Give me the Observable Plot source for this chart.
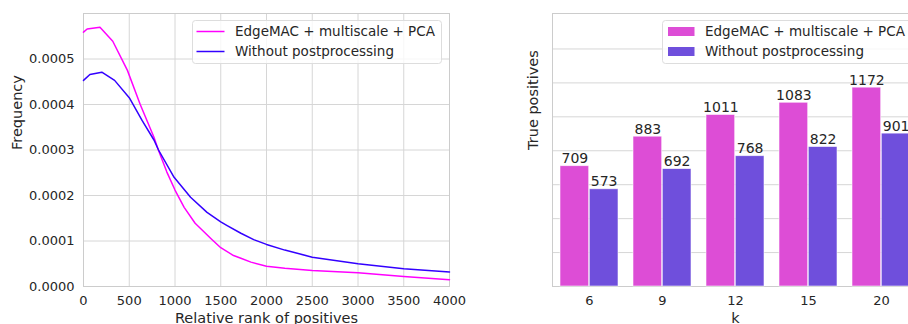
<!DOCTYPE html>
<html>
<head>
<meta charset="utf-8">
<script src="https://cdn.jsdelivr.net/npm/d3@7"></script>
<script src="https://cdn.jsdelivr.net/npm/@observablehq/plot@0.6"></script>
<style>
  body { margin: 0; background: white; }
  #wrap { position: relative; width: 908px; height: 324px; overflow: hidden; background: white; }
  #left, #right { position: absolute; top: 0; width: 470px; height: 324px; }
  #left { left: 0; }
  #right { left: 460px; }
  svg { overflow: visible; max-width: none !important; }
</style>
</head>
<body>
<div id="wrap"><div id="left"></div><div id="right"></div></div>
<script>
// ---------- data ----------
const seriesNames = ["EdgeMAC + multiscale + PCA", "Without postprocessing"];

const rankA = [0, 40, 180, 320, 480, 620, 770, 820, 910, 1000, 1100, 1220, 1400, 1500, 1640, 1720, 1830, 2000, 2200, 2500, 3000, 3500, 4000];
const freqA = [0.000559, 0.000566, 0.000570, 0.000539, 0.000475, 0.000400, 0.000328, 0.000299, 0.000252, 0.000212, 0.000174, 0.000139, 0.000104, 0.0000852, 0.0000680, 0.0000622, 0.0000536, 0.0000446, 0.0000400, 0.0000352, 0.0000301, 0.0000220, 0.0000147];

const rankB = [0, 70, 200, 340, 500, 640, 770, 820, 990, 1170, 1350, 1500, 1570, 1720, 1860, 2000, 2200, 2500, 3000, 3500, 4000];
const freqB = [0.000453, 0.000466, 0.000471, 0.000453, 0.000415, 0.000365, 0.000322, 0.000300, 0.000240, 0.000196, 0.000163, 0.000142, 0.000134, 0.000117, 0.000103, 0.0000925, 0.0000800, 0.0000645, 0.0000499, 0.0000389, 0.0000320];

const kValues = ["6", "9", "12", "15", "20"];
const tpA = [709, 883, 1011, 1083, 1172];
const tpB = [573, 692, 768, 822, 901];

const xTicksLeft = [0, 500, 1000, 1500, 2000, 2500, 3000, 3500, 4000];
const yTicksLeft = [0, 0.0001, 0.0002, 0.0003, 0.0004, 0.0005];
const yTicksRight = [200, 400, 600, 800, 1000, 1200, 1400];

const lineColors = ["#ff00ff", "#3300ff"];
const barColors = ["#dd4dd6", "#6f4fdc"];
const textColor = "#262626";
const gridColor = "#d6d6d6";
const frameColor = "#cccccc";
const FONT = "DejaVu Sans, sans-serif";

// ---------- tables ----------
const lineData = [
  ...rankA.map((r, i) => ({rank: r, freq: freqA[i], s: seriesNames[0]})),
  ...rankB.map((r, i) => ({rank: r, freq: freqB[i], s: seriesNames[1]}))
];
const barA = kValues.map((k, i) => ({k, v: tpA[i]}));
const barB = kValues.map((k, i) => ({k, v: tpB[i]}));

// ---------- left chart ----------
const left = Plot.plot({
  width: 470, height: 324,
  marginLeft: 83, marginRight: 21, marginTop: 13, marginBottom: 38,
  style: {fontFamily: FONT, fontSize: "13px", color: textColor, background: "transparent", overflow: "visible"},
  x: {domain: [0, 4000], label: null, axis: null},
  y: {domain: [0, 0.0006], label: null, axis: null},
  color: {domain: seriesNames, range: lineColors},
  marks: [
    Plot.gridX(xTicksLeft, {stroke: gridColor, strokeOpacity: 1}),
    Plot.gridY(yTicksLeft, {stroke: gridColor, strokeOpacity: 1}),
    Plot.frame({stroke: frameColor}),
    Plot.axisX(xTicksLeft, {tickSize: 0, tickPadding: 9, tickFormat: d => String(d), label: null, fill: textColor}),
    Plot.axisY(yTicksLeft, {tickSize: 0, tickPadding: 9, tickFormat: d3.format(".4f"), label: null, fill: textColor}),
    Plot.line(lineData, {x: "rank", y: "freq", z: "s", stroke: "s", strokeWidth: 1.5}),
    Plot.text(["Relative rank of positives"], {frameAnchor: "bottom", lineAnchor: "bottom", dy: 36, fontSize: 14.5, fill: textColor}),
    Plot.text(["Frequency"], {frameAnchor: "left", rotate: -90, dx: -66, fontSize: 14.5, fill: textColor})
  ]
});
document.getElementById("left").append(left);

// ---------- right chart ----------
const right = Plot.plot({
  width: 470, height: 324,
  marginLeft: 92, marginRight: 12, marginTop: 13, marginBottom: 38,
  style: {fontFamily: FONT, fontSize: "13px", color: textColor, background: "transparent", overflow: "visible"},
  x: {type: "band", domain: kValues, paddingInner: 0.2, paddingOuter: 0.1, label: null, axis: null},
  y: {domain: [0, 1609], label: null, axis: null},
  marks: [
    Plot.gridY(yTicksRight, {stroke: gridColor, strokeOpacity: 1}),
    Plot.frame({stroke: frameColor}),
    Plot.axisX({tickSize: 0, tickPadding: 9, label: null, fill: textColor}),
    Plot.barY(barA, {x: "k", y: "v", fill: barColors[0], insetRight: 29.3, stroke: "white", strokeWidth: 0.8, strokeOpacity: 0.7}),
    Plot.barY(barB, {x: "k", y: "v", fill: barColors[1], insetLeft: 29.3, stroke: "white", strokeWidth: 0.8, strokeOpacity: 0.7}),
    Plot.text(barA, {x: "k", y: "v", text: d => String(d.v), dx: -14.6, dy: -3, lineAnchor: "bottom", fontSize: 14, fill: textColor}),
    Plot.text(barB, {x: "k", y: "v", text: d => String(d.v), dx: 14.6, dy: -3, lineAnchor: "bottom", fontSize: 14, fill: textColor}),
    Plot.text(["k"], {frameAnchor: "bottom", lineAnchor: "bottom", dy: 36, fontSize: 14.5, fill: textColor}),
    Plot.text(["True positives"], {frameAnchor: "left", rotate: -90, dx: -19.5, fontSize: 14.5, fill: textColor})
  ]
});
document.getElementById("right").append(right);

// ---------- legends ----------
function legend(svgNode, x0, kind, colors) {
  const svg = d3.select(svgNode);
  const g = svg.append("g").attr("font-family", FONT).attr("font-size", 13.5)
    .attr("fill", textColor).attr("text-anchor", "start");
  g.append("rect").attr("x", x0).attr("y", 20.5).attr("width", 249).attr("height", 43)
    .attr("rx", 3).attr("fill", "white").attr("fill-opacity", 0.8).attr("stroke", "#dddddd");
  seriesNames.forEach((name, i) => {
    const cy = 31.5 + i * 20;
    if (kind === "line") {
      g.append("line").attr("x1", x0 + 4).attr("x2", x0 + 32).attr("y1", cy).attr("y2", cy)
        .attr("stroke", colors[i]).attr("stroke-width", 1.5);
    } else {
      g.append("rect").attr("x", x0 + 5.5).attr("y", cy - 4.5).attr("width", 26.5).attr("height", 9)
        .attr("fill", colors[i]);
    }
    g.append("text").attr("x", x0 + 42.5).attr("y", cy).attr("dy", "0.35em")
      .attr("text-anchor", "start").text(name);
  });
}
legend(left, 192.5, "line", lineColors);
legend(right, 202.5, "bar", barColors);
</script>
</body>
</html>
